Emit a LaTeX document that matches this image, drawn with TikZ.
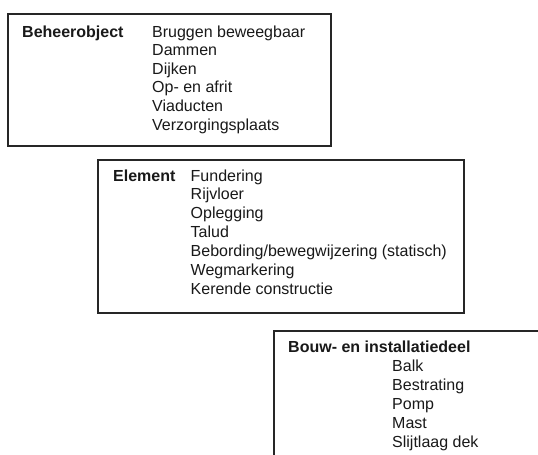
\documentclass[tikz,border=0pt]{standalone}
\usepackage{fontspec}
\setmainfont{Liberation Sans}
\begin{document}
\begin{tikzpicture}[x=1pt,y=-1pt,
  frame/.style={draw=black!85, line width=1.9pt, inner sep=0pt, anchor=north west, fill=none},
  txt/.style={inner sep=0pt, anchor=base west, text=black!90, font=\fontsize{16}{19}\selectfont},
  lbl/.style={txt, font=\fontsize{16}{19}\selectfont\bfseries}]
\clip (0,0) rectangle (538,455);
\fill[white] (0,0) rectangle (538,455);
% Box 1
\node[frame, minimum width=323pt, minimum height=132pt] (box1) at (7,13) {};
\node[lbl] (l1) at (22,37) {Beheerobject};
\foreach \t [count=\i from 0] in {Bruggen beweegbaar,Dammen,Dijken,Op- en afrit,Viaducten,Verzorgingsplaats}
  \node[txt] (a\i) at (152,37+18.6*\i) {\t};
% Box 2
\node[frame, minimum width=366pt, minimum height=153pt] (box2) at (97,159) {};
\node[lbl] (l2) at (113,181) {Element};
\foreach \t [count=\i from 0] in {Fundering,Rijvloer,Oplegging,Talud,Bebording/bewegwijzering (statisch),Wegmarkering,Kerende constructie}
  \node[txt] (e\i) at (190.5,181+18.85*\i) {\t};
% Box 3
\node[frame, minimum width=300pt, minimum height=160pt] (box3) at (273,330) {};
\node[lbl] (l3) at (288,352) {Bouw- en installatiedeel};
\foreach \t [count=\i from 1] in {Balk,Bestrating,Pomp,Mast,Slijtlaag dek}
  \node[txt] (d\i) at (392,352+19.1*\i) {\t};
\end{tikzpicture}
\end{document}
